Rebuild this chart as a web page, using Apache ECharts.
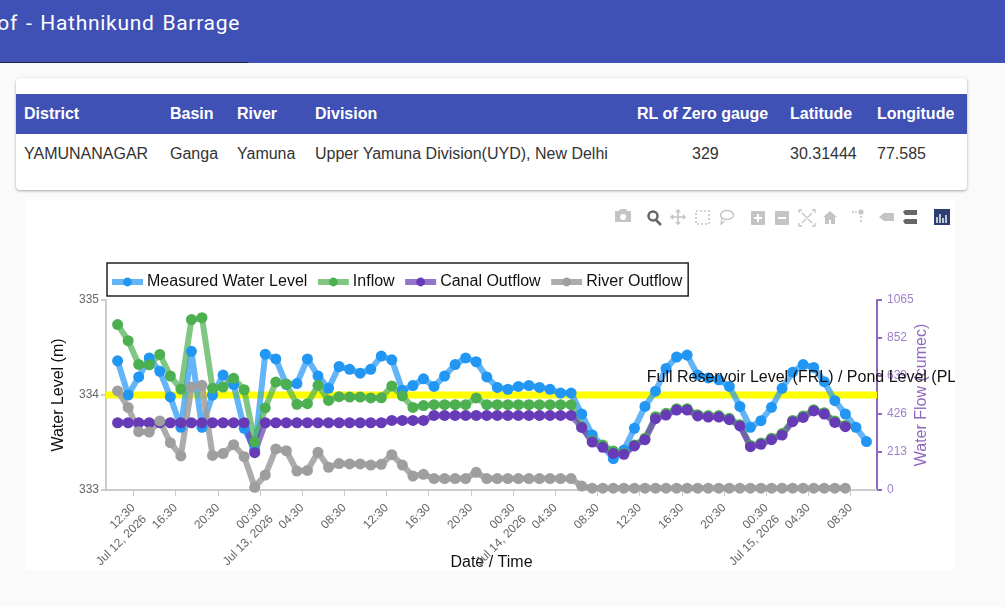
<!DOCTYPE html>
<html><head><meta charset="utf-8">
<script src="https://cdn.jsdelivr.net/npm/echarts@6/dist/echarts.min.js"></script>
<style>
html,body{margin:0;padding:0;width:1005px;height:607px;overflow:hidden;background:#fafafa;font-family:"Liberation Sans",Arial,sans-serif}
#bar{position:absolute;left:0;top:0;width:1005px;height:63px;background:#3f51b5;overflow:hidden}
#bar .t{position:absolute;right:765px;top:11px;color:#fff;font:21px Roboto;letter-spacing:.7px;word-spacing:2px;white-space:nowrap}
#bar .u{position:absolute;left:0;top:62px;width:248px;height:1px;background:#1c2340}
#card{position:absolute;left:16px;top:78px;width:951px;height:112px;background:#fff;border-radius:4px;box-shadow:0 1px 3px rgba(0,0,0,.35)}
#head{position:absolute;left:0;top:16px;width:951px;height:40px;background:#3f51b5}
#card span{position:absolute;font-size:16px;white-space:nowrap}
#head span{top:11px;color:#fff;font-weight:bold}
.r span{top:67px;color:#333}
#wrap{position:absolute;left:26px;top:200px;width:929px;height:370px;background:#fff;overflow:hidden}
#chart{position:absolute;left:0;top:0;width:929px;height:370px}
#mode{position:absolute;left:0;top:0;pointer-events:none}
</style></head><body>
<div id="bar"><div class="t">Dashboard of - Hathnikund Barrage</div><div class="u"></div></div>
<div id="card">
<div id="head"><span style="left:8px">District</span><span style="left:154px">Basin</span><span style="left:221px">River</span><span style="left:299px">Division</span><span style="left:621px">RL of Zero gauge</span><span style="left:774px">Latitude</span><span style="left:861px">Longitude</span></div>
<div class="r"><span style="left:8px">YAMUNANAGAR</span><span style="left:154px">Ganga</span><span style="left:221px">Yamuna</span><span style="left:299px">Upper Yamuna Division(UYD), New Delhi</span><span style="left:676px">329</span><span style="left:774px">30.31444</span><span style="left:861px">77.585</span></div>
</div>
<div id="wrap"><div id="chart"></div>
<svg id="mode" width="929" height="40" fill="#c4c4c4">
<path d="M589 11h4l1-2h6l1 2h4v11h-16z"/><circle cx="597" cy="17" r="3" fill="#fff"/>
<circle cx="627" cy="16" r="4.5" fill="none" stroke="#666" stroke-width="2.5"/><path d="M630 20l5 5" stroke="#666" stroke-width="2.5"/>
<path d="M652 10v14M645 17h14M650 12l2-2 2 2M650 22l2 2 2-2M647 15l-2 2 2 2M657 15l2 2-2 2" stroke="#c4c4c4" stroke-width="1.6" fill="none"/>
<rect x="670" y="11" width="13" height="13" fill="none" stroke="#c4c4c4" stroke-width="1.6" stroke-dasharray="2 2"/>
<ellipse cx="701" cy="15" rx="6.5" ry="4.5" fill="none" stroke="#c4c4c4" stroke-width="1.4"/><path d="M696 18l-1 6 4-3" fill="none" stroke="#c4c4c4" stroke-width="1.2"/>
<rect x="725" y="11" width="14" height="14" rx="1"/><path d="M732 14v8M728 18h8" stroke="#fff" stroke-width="2"/>
<rect x="749" y="11" width="14" height="14" rx="1"/><path d="M752 18h8" stroke="#fff" stroke-width="2"/>
<path d="M773 13v-3h3M786 10h3v3M773 23v3h3M786 26h3v-3M776 13l10 10M786 13l-10 10" stroke="#c4c4c4" stroke-width="1.3" fill="none"/>
<path d="M797 17l7-6 7 6h-2v7h-4v-4h-2v4h-4v-7z"/>
<circle cx="835" cy="12" r="2.6"/><path d="M829 12h2M826 12h2M835 16v2M835 20v2" stroke="#c4c4c4" stroke-width="1.6"/>
<path d="M853 17l5-4h10v8h-10z"/>
<path d="M877 12l2-2h12v5h-12zM877 21l2-2h12v5h-12z" fill="#666"/>
<rect x="908" y="9" width="16" height="16" fill="#2a3f70"/><path d="M911 17v6M914 14v9M917 18v5M920 15v8" stroke="#fff" stroke-width="1.4"/>
</svg>
</div>
<script>
const startUTC = Date.UTC(2026, 6, 12, 11, 0);
const hourMs = 3600000;
const firstTickUTC = Date.UTC(2026, 6, 12, 12, 30);
const tickCount = 18;
const legendNames = ['Measured Water Level', 'Inflow', 'Canal Outflow', 'River Outflow'];
const frlLabel = 'Full Reservoir Level (FRL) / Pond Level (PL)';
const frlLevel = 334;
const waterLevel = [334.36,334.00,334.19,334.39,334.25,333.98,333.66,334.46,333.66,334.00,334.21,334.11,333.65,333.42,334.43,334.38,334.11,334.12,334.38,334.20,334.07,334.30,334.27,334.23,334.27,334.41,334.37,334.05,334.10,334.17,334.09,334.20,334.32,334.39,334.35,334.19,334.08,334.06,334.09,334.10,334.08,334.06,334.02,334.02,333.80,333.58,333.46,333.33,333.42,333.65,333.88,334.04,334.28,334.40,334.42,334.21,334.18,334.16,334.09,333.88,333.66,333.73,333.87,334.07,334.24,334.32,334.29,334.14,333.94,333.80,333.66,333.51];
const inflow = [927,837,704,702,760,639,566,955,966,570,577,626,562,270,460,605,594,480,484,587,502,523,521,521,516,517,583,527,463,473,478,478,478,478,516,478,478,478,478,478,478,478,478,478,355,276,252,219,205,252,290,411,430,456,456,422,417,417,402,366,250,263,290,316,390,415,450,433,387,362];
const canalOutflow = [377,377,377,377,377,377,377,377,377,377,377,377,377,209,377,377,377,377,377,377,377,377,377,377,377,377,390,390,390,390,418,418,418,418,418,418,418,418,418,418,418,418,418,418,351,269,239,205,200,247,282,400,420,448,448,415,409,409,394,359,243,256,282,308,383,407,443,426,379,355];
const riverOutflow = [555,463,327,325,387,265,191,577,587,194,204,254,187,15,84,230,220,106,110,211,127,148,146,146,140,144,198,140,78,88,64,64,64,64,99,64,64,64,64,64,64,64,64,64,22,10,10,10,10,10,10,10,10,10,10,10,10,10,10,10,10,10,10,10,10,10,10,10,10,10];

const xOf = i => startUTC + i * hourMs;
const pts = arr => arr.map((v, i) => [xOf(i), v]);
const ticks = Array.from({length: tickCount}, (_, i) => firstTickUTC + i * 4 * hourMs);
const months = ['Jan','Feb','Mar','Apr','May','Jun','Jul','Aug','Sep','Oct','Nov','Dec'];
const p2 = n => String(n).padStart(2, '0');
function fmt(v) {
  const d = new Date(v);
  const t = p2(d.getUTCHours()) + ':' + p2(d.getUTCMinutes());
  if (v === ticks[0] || d.getUTCHours() === 0) return ' \n' + t + '\n' + months[d.getUTCMonth()] + ' ' + d.getUTCDate() + ', ' + d.getUTCFullYear();
  return ' \n' + t + '\n ';
}
const xMin = xOf(-1.1), xMax = xOf(72.0);
const FONT = '"Liberation Sans", Arial, sans-serif';
function line(name, data, yi, sym, ln) {
  return {name, type: 'line', yAxisIndex: yi, data: pts(data), symbol: 'circle', symbolSize: 11, showSymbol: true, clip: false,
    itemStyle: {color: sym}, lineStyle: {color: ln, width: 6}, emphasis: {disabled: true}, animation: false};
}
const chart = echarts.init(document.getElementById('chart'), null, {renderer: 'canvas'});
chart.setOption({
  animation: false,
  textStyle: {fontFamily: FONT},
  grid: {left: 80, right: 78, top: 100, bottom: 80, outerBoundsMode: 'none'},
  legend: {
    left: 81, top: 63, orient: 'horizontal', data: legendNames,
    backgroundColor: '#fff', borderColor: '#222', borderWidth: 1.5, padding: [11, 6, 6, 2], itemGap: 7.5, itemWidth: 31, itemHeight: 11,
    lineStyle: {width: 6},
    textStyle: {color: '#111', fontSize: 16, padding: [2, 0, 0, -1], fontFamily: FONT}
  },
  xAxis: {
    type: 'value', min: xMin, max: xMax, splitLine: {show: false},
    axisLine: {show: true, onZero: false, lineStyle: {color: '#ccc', width: 2}},
    axisTick: {show: true, customValues: ticks, length: 6, lineStyle: {color: '#ccc', width: 1}},
    axisLabel: {customValues: ticks, rotate: 45, formatter: fmt, color: '#666', fontSize: 12, margin: 16, lineHeight: 16, hideOverlap: false},
    name: 'Date / Time', nameLocation: 'middle', nameGap: 65, nameMoveOverlap: false, nameTextStyle: {color: '#111', fontSize: 16}
  },
  yAxis: [{
    type: 'value', min: 333, max: 335, interval: 1, splitLine: {show: false},
    axisLine: {show: true, lineStyle: {color: '#ccc', width: 2}},
    axisTick: {show: true, length: 5, lineStyle: {color: '#ccc', width: 2}},
    axisLabel: {color: '#666', fontSize: 12, margin: 7},
    name: 'Water Level (m)', nameLocation: 'middle', nameGap: 39, nameMoveOverlap: false, nameTextStyle: {color: '#111', fontSize: 16}
  }, {
    type: 'value', position: 'right', min: 0, max: 1065, interval: 213, splitLine: {show: false},
    axisLine: {show: true, lineStyle: {color: '#9168c0', width: 2}},
    axisTick: {show: true, length: 5, lineStyle: {color: '#9168c0', width: 2}},
    axisLabel: {color: '#a080cc', fontSize: 12, margin: 10, formatter: v => String(v)},
    name: 'Water Flow (cumec)', nameLocation: 'middle', nameGap: 37, nameMoveOverlap: false, nameTextStyle: {color: '#9168c0', fontSize: 16}
  }],
  series: [
    {name: 'FRL', type: 'line', yAxisIndex: 0, data: [[xMin, frlLevel], [xMax, frlLevel]], symbol: 'none', lineStyle: {color: '#ffff00', width: 7}, z: 1, animation: false, emphasis: {disabled: true},
     markPoint: {symbol: 'circle', symbolSize: 0, animation: false, silent: true, data: [{coord: [xOf(65), frlLevel]}],
       label: {show: true, formatter: frlLabel, color: '#111', fontSize: 16, position: 'top', distance: 0, offset: [1, -9]}}},
    line(legendNames[0], waterLevel, 0, '#2196f3', 'rgba(33,150,243,0.7)'),
    line(legendNames[1], inflow, 1, '#4caf50', 'rgba(76,175,80,0.7)'),
    line(legendNames[2], canalOutflow, 1, '#673ab7', 'rgba(103,58,183,0.7)'),
    line(legendNames[3], riverOutflow, 1, '#9e9e9e', 'rgba(158,158,158,0.85)')
  ]
});
</script>
</body></html>
